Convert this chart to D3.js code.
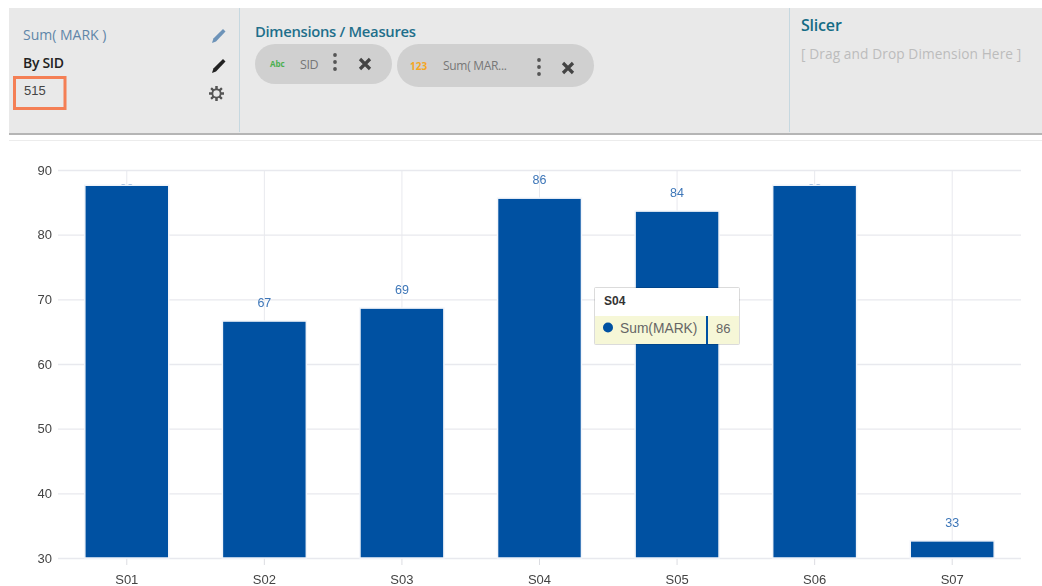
<!DOCTYPE html>
<html>
<head>
<meta charset="utf-8">
<script src="https://cdn.jsdelivr.net/npm/d3@7"></script>
<style>
  html, body { margin: 0; padding: 0; background: #fff; }
  svg { display: block; filter: blur(0.45px); }
  .ui { font-family: "Open Sans", sans-serif; }
  .chart text { font-family: "Liberation Sans", Arial, sans-serif; }
</style>
</head>
<body>
<svg width="1042" height="586"></svg>
<script>
const categories = ["S01", "S02", "S03", "S04", "S05", "S06", "S07"];
const marks = [88, 67, 69, 86, 84, 88, 33];
const yTicks = [30, 40, 50, 60, 70, 80, 90];

const svg = d3.select("svg");
const margin = {top: 170, right: 21, bottom: 28, left: 58};
const width = 1042 - margin.left - margin.right;
const height = 586 - margin.top - margin.bottom;

// ---- header panel ----
const head = svg.append("g").attr("class", "ui");
head.append("rect").attr("x", 9).attr("y", 8).attr("width", 1033).attr("height", 125).attr("fill", "#e9e9e9");
head.append("rect").attr("x", 9).attr("y", 133).attr("width", 1033).attr("height", 2).attr("fill", "#b5b5b5");
head.append("rect").attr("x", 9).attr("y", 140).attr("width", 1033).attr("height", 1).attr("fill", "#ececec");
[239.5, 789.5].forEach(x => {
  head.append("line").attr("x1", x).attr("x2", x).attr("y1", 8).attr("y2", 132).attr("stroke", "#c6d8e0");
});

function label(x, y, text, size, fill, weight) {
  return head.append("text").attr("x", x).attr("y", y).attr("font-size", size)
    .attr("fill", fill).attr("font-weight", weight || 400).text(text);
}

label(23, 40, "Sum( MARK )", 14, "#5f86a8");
label(23, 68, "By SID", 14, "#222", 600).attr("letter-spacing", "-0.3");
label(24, 95, "515", 13, "#444").style("font-family", "'Liberation Sans', Arial, sans-serif");
head.append("rect").attr("x", 14.5).attr("y", 77.5).attr("width", 50.5).attr("height", 31)
  .attr("fill", "none").attr("stroke", "#f47f55").attr("stroke-width", 3);

label(255, 37, "Dimensions / Measures", 14.8, "#1f6f8b", 600).attr("letter-spacing", "-0.3");
label(801, 31, "Slicer", 16, "#146c85", 600).attr("letter-spacing", "-0.2");
label(801, 59, "[ Drag and Drop Dimension Here ]", 13.7, "#bcbcbc").attr("letter-spacing", "0.1");

// pencil icons
function pencil(x, y, fill) {
  head.append("path").attr("transform", `translate(${x},${y})`).attr("fill", fill)
    .attr("d", "M0 15 L1.4 10.5 L11 1 L13.5 3.5 L4 13.5 Z");
}
pencil(212, 28, "#6d93b8");
pencil(212, 58, "#222");

// gear icon
const gear = head.append("g").attr("transform", "translate(216.5,93.5)");
d3.range(8).forEach(i => {
  gear.append("rect").attr("x", -1).attr("y", -7.5).attr("width", 2).attr("height", 15)
    .attr("fill", "#555").attr("transform", `rotate(${i * 45})`);
});
gear.append("circle").attr("r", 5).attr("fill", "#555");
gear.append("circle").attr("r", 3.2).attr("fill", "#e9e9e9");

// pills
function pill(x, w, y, h) {
  head.append("rect").attr("x", x).attr("y", y).attr("width", w).attr("height", h)
    .attr("rx", h / 2).attr("fill", "#d0d0d0");
}
pill(255, 137, 44, 40);
pill(397, 197, 44, 43);

function dots(x, y) {
  [-7, 0, 7].forEach(d => head.append("circle").attr("cx", x).attr("cy", y + d).attr("r", 1.9).attr("fill", "#555"));
}
function cross(x, y) {
  head.append("path").attr("d", `M${x - 5} ${y - 5}L${x + 5} ${y + 5}M${x + 5} ${y - 5}L${x - 5} ${y + 5}`)
    .attr("stroke", "#444").attr("stroke-width", 3.2);
}
label(270, 67, "Abc", 8, "#4caf50", 700);
label(300, 69, "SID", 12.5, "#777").attr("letter-spacing", "-0.4");
dots(335, 62);
cross(365, 64);
label(410, 70, "123", 10, "#f5a623", 700);
label(443, 70, "Sum( MAR...", 12, "#777").attr("letter-spacing", "-0.3");
dots(539, 67);
cross(568, 68);

// ---- chart ----
const g = svg.append("g").attr("class", "chart")
  .attr("transform", `translate(${margin.left},${margin.top})`);

const x = d3.scaleBand().domain(categories).range([0, width]).paddingInner(0.39).paddingOuter(0.195);
const y = d3.scaleLinear().domain([30, 90]).range([height, 0]);
const barInset = 2.3; // bars sit a little under their value in the original

g.append("g")
  .call(d3.axisLeft(y).tickValues(yTicks).tickSize(-width).tickPadding(6))
  .call(a => a.select(".domain").remove())
  .call(a => a.selectAll("line").attr("stroke", "#e8e9ee").attr("stroke-width", 1.4))
  .call(a => a.selectAll("text").attr("font-size", 13).attr("fill", "#444"));

g.append("g")
  .attr("transform", `translate(0,${height})`)
  .call(d3.axisBottom(x).tickSize(7).tickPadding(10))
  .call(a => a.select(".domain").remove())
  .call(a => a.selectAll("line").attr("stroke", "#dcdde2"))
  .call(a => a.selectAll("text").attr("font-size", 13).attr("fill", "#444"));

// vertical grid through the band centres
g.append("g").selectAll("line")
  .data(categories)
  .join("line")
    .attr("x1", d => x(d) + x.bandwidth() / 2)
    .attr("x2", d => x(d) + x.bandwidth() / 2)
    .attr("y1", 0)
    .attr("y2", height)
    .attr("stroke", "#e8e9ee");

// labels go under the bars, the ones that don't fit above the plot end up hidden behind them
g.append("g").selectAll("text")
  .data(marks)
  .join("text")
    .attr("x", (d, i) => x(categories[i]) + x.bandwidth() / 2)
    .attr("y", d => y(d) - 11.5 < 5 ? 23 : y(d) - 11.5)
    .attr("text-anchor", "middle")
    .attr("font-size", 12.5)
    .attr("fill", "#3d76b8")
    .text(d => d);

g.append("g").selectAll("rect")
  .data(marks)
  .join("rect")
    .attr("x", (d, i) => x(categories[i]))
    .attr("y", d => y(d) + barInset)
    .attr("width", x.bandwidth())
    .attr("height", d => height - y(d) - barInset)
    .attr("fill", "#0051a2")
    .attr("stroke", "#f2f5fa")
    .attr("stroke-width", 1.5);

// ---- tooltip for S04 ----
const active = 3;
const tip = svg.append("g").attr("class", "chart").attr("transform", "translate(595,288)");
tip.append("rect").attr("x", -1).attr("y", -1).attr("width", 146).attr("height", 58).attr("fill", "#000").attr("opacity", 0.14).attr("rx", 2);
tip.append("rect").attr("width", 144).attr("height", 56).attr("fill", "#fff");
tip.append("rect").attr("y", 28).attr("width", 144).attr("height", 28).attr("fill", "#f6f7d7");
tip.append("text").attr("x", 9).attr("y", 17).attr("font-size", 12).attr("font-weight", 700).attr("fill", "#333").text(categories[active]);
tip.append("circle").attr("cx", 13).attr("cy", 39.5).attr("r", 5).attr("fill", "#0051a2");
tip.append("text").attr("x", 25).attr("y", 44.5).attr("font-size", 13.8).attr("fill", "#666").text("Sum(MARK)");
tip.append("rect").attr("x", 111).attr("y", 28).attr("width", 2).attr("height", 28).attr("fill", "#0051a2");
tip.append("text").attr("x", 121).attr("y", 44.5).attr("font-size", 13).attr("fill", "#666").text(marks[active]);
</script>
</body>
</html>
